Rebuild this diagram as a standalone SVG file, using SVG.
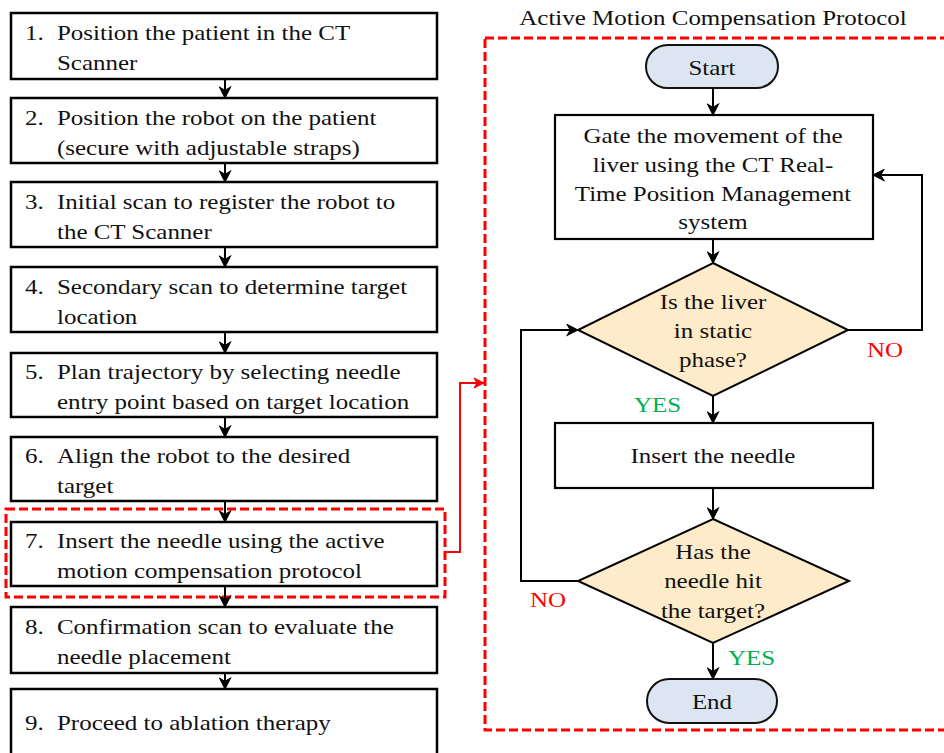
<svg xmlns="http://www.w3.org/2000/svg" width="944" height="753" viewBox="0 0 944 753" font-family="Liberation Serif, Times New Roman, serif">
<defs>
<marker id="ah" viewBox="0 0 12 12" refX="11" refY="6" markerWidth="13" markerHeight="13" markerUnits="userSpaceOnUse" orient="auto">
<path d="M1,1 L11,6 L1,11 L4,6 Z" fill="#000" stroke="#000" stroke-width="1"/>
</marker>
<marker id="ahr" viewBox="0 0 12 12" refX="11" refY="6" markerWidth="12" markerHeight="12" markerUnits="userSpaceOnUse" orient="auto">
<path d="M1,1 L11,6 L1,11 L4,6 Z" fill="#f00" stroke="#f00" stroke-width="1"/>
</marker>
</defs>
<style>
text{font-size:22px;fill:#111}
.box{fill:#fff;stroke:#000;stroke-width:2.5}
.rbox{fill:#fff;stroke:#000;stroke-width:2.2}
.term{fill:#dce6f2;stroke:#111;stroke-width:2}
.dia{fill:#fdebc9;stroke:#000;stroke-width:2}
.c{text-anchor:middle}
.ln{fill:none;stroke:#000;stroke-width:2}
.red{fill:none;stroke:#f00;stroke-width:3;stroke-dasharray:9 4}
.no{fill:#f00}
.yes{fill:#00b050}
</style>
<rect width="944" height="753" fill="#fff"/>

<g id="steps">
<g id="s1"><rect class="box" x="11" y="13" width="426" height="66"/><g transform="scale(1.135,1)"><text x="22" y="40">1.</text><text x="50.2" y="40">Position the patient in the CT</text><text x="50.2" y="70">Scanner</text></g></g>
<g id="s2"><rect class="box" x="11" y="98" width="426" height="65"/><g transform="scale(1.135,1)"><text x="22" y="125">2.</text><text x="50.2" y="125">Position the robot on the patient</text><text x="50.2" y="155">(secure with adjustable straps)</text></g></g>
<g id="s3"><rect class="box" x="11" y="182" width="426" height="65"/><g transform="scale(1.135,1)"><text x="22" y="209">3.</text><text x="50.2" y="209">Initial scan to register the robot to</text><text x="50.2" y="239">the CT Scanner</text></g></g>
<g id="s4"><rect class="box" x="11" y="267" width="426" height="65"/><g transform="scale(1.135,1)"><text x="22" y="294">4.</text><text x="50.2" y="294">Secondary scan to determine target</text><text x="50.2" y="324">location</text></g></g>
<g id="s5"><rect class="box" x="11" y="353" width="426" height="64"/><g transform="scale(1.135,1)"><text x="22" y="379">5.</text><text x="50.2" y="379">Plan trajectory by selecting needle</text><text x="50.2" y="409">entry point based on target location</text></g></g>
<g id="s6"><rect class="box" x="11" y="437" width="426" height="64"/><g transform="scale(1.135,1)"><text x="22" y="463">6.</text><text x="50.2" y="463">Align the robot to the desired</text><text x="50.2" y="493">target</text></g></g>
<g id="s7"><rect class="box" x="11" y="522" width="426" height="64"/><g transform="scale(1.135,1)"><text x="22" y="548">7.</text><text x="50.2" y="548">Insert the needle using the active</text><text x="50.2" y="578">motion compensation protocol</text></g></g>
<g id="s8"><rect class="box" x="11" y="607" width="426" height="66"/><g transform="scale(1.135,1)"><text x="22" y="634">8.</text><text x="50.2" y="634">Confirmation scan to evaluate the</text><text x="50.2" y="664">needle placement</text></g></g>
<g id="s9"><rect class="box" x="11" y="689" width="426" height="80"/><g transform="scale(1.135,1)"><text x="22" y="730">9.</text><text x="50.2" y="730">Proceed to ablation therapy</text></g></g>
</g>

<g id="highlight7"><rect class="red" x="6" y="509" width="439" height="88"/></g>

<g id="protocol">
<rect class="red" x="485" y="38" width="470" height="692"/>
<g transform="scale(1.135,1)"><text class="c" x="628.2" y="25">Active Motion Compensation Protocol</text></g>
</g>

<g id="start"><rect class="term" x="646" y="45" width="132" height="43" rx="21.5"/><g transform="scale(1.135,1)"><text class="c" x="627.3" y="75">Start</text></g></g>
<g id="gate"><rect class="rbox" x="555" y="115" width="318" height="124"/>
<g transform="scale(1.135,1)">
<text class="c" x="628.2" y="143">Gate the movement of the</text>
<text class="c" x="628.2" y="172">liver using the CT Real-</text>
<text class="c" x="628.2" y="201">Time Position Management</text>
<text class="c" x="628.2" y="229">system</text></g></g>
<g id="d1"><polygon class="dia" points="713,263 848,330 713,396 578,330"/>
<g transform="scale(1.135,1)">
<text class="c" x="628.2" y="309">Is the liver</text>
<text class="c" x="628.2" y="338">in static</text>
<text class="c" x="628.2" y="367">phase?</text></g></g>
<g id="insert"><rect class="rbox" x="555" y="423" width="318" height="65"/><g transform="scale(1.135,1)"><text class="c" x="628.2" y="463">Insert the needle</text></g></g>
<g id="d2"><polygon class="dia" points="713,519 849,581 713,643 578,581"/>
<g transform="scale(1.135,1)">
<text class="c" x="628.2" y="559">Has the</text>
<text class="c" x="628.2" y="588">needle hit</text>
<text class="c" x="628.2" y="618">the target?</text></g></g>
<g id="end"><rect class="term" x="647" y="679" width="130" height="44" rx="22"/><g transform="scale(1.135,1)"><text class="c" x="627.3" y="709">End</text></g></g>

<g id="connectors">
<line class="ln" x1="225" y1="79" x2="225" y2="98" marker-end="url(#ah)"/>
<line class="ln" x1="225" y1="163" x2="225" y2="182" marker-end="url(#ah)"/>
<line class="ln" x1="225" y1="247" x2="225" y2="267" marker-end="url(#ah)"/>
<line class="ln" x1="225" y1="332" x2="225" y2="353" marker-end="url(#ah)"/>
<line class="ln" x1="225" y1="417" x2="225" y2="437" marker-end="url(#ah)"/>
<line class="ln" x1="225" y1="501" x2="225" y2="522" marker-end="url(#ah)"/>
<line class="ln" x1="225" y1="586" x2="225" y2="607" marker-end="url(#ah)"/>
<line class="ln" x1="225" y1="673" x2="225" y2="689" marker-end="url(#ah)"/>
<polyline fill="none" stroke="#f00" stroke-width="2" points="445,552 460,552 460,383 484,383" marker-end="url(#ahr)"/>
<line class="ln" x1="713" y1="88" x2="713" y2="115" marker-end="url(#ah)"/>
<line class="ln" x1="713" y1="239" x2="713" y2="263" marker-end="url(#ah)"/>
<line class="ln" x1="713" y1="396" x2="713" y2="423" marker-end="url(#ah)"/>
<line class="ln" x1="713" y1="488" x2="713" y2="519" marker-end="url(#ah)"/>
<line class="ln" x1="713" y1="643" x2="713" y2="679" marker-end="url(#ah)"/>
<polyline class="ln" points="848,330 922,330 922,175 873,175" marker-end="url(#ah)"/>
<polyline class="ln" points="578,581 521,581 521,330 578,330" marker-end="url(#ah)"/>
<g transform="scale(1.135,1)">
<text class="no" x="763.9" y="357">NO</text>
<text class="yes" x="558.6" y="412">YES</text>
<text class="no" x="467" y="607">NO</text>
<text class="yes" x="641.4" y="665">YES</text>
</g>
</g>
</svg>
